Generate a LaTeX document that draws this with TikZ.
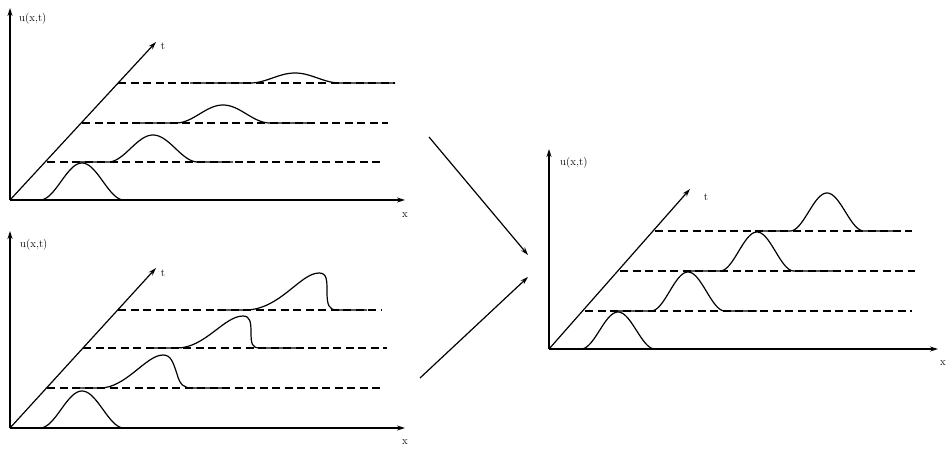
\documentclass[tikz,border=0pt]{standalone}
\usetikzlibrary{arrows.meta}

% one bump on a baseline: baseline row, centre, height, half width, solid from, solid to
\newcommand\bumpcurve[6]{%
  \pgfmathsetmacro\bumpa{#2-#4}%
  \pgfmathsetmacro\bumpb{#2+#4}%
  \draw[curve] (#5,#1) -- (\bumpa,#1)
    -- plot[domain=\bumpa:\bumpb,samples=60,smooth] (\x,{#1-#3*(1+cos(180*(\x-#2)/#4))/2})
    -- (#6,#1);
}

\tikzset{
  axis/.style={line width=1.2pt,-{Stealth[length=8pt,width=5pt]}},
  level/.style={line width=1.2pt,dash pattern=on 8pt off 4.5pt},
  curve/.style={line width=1.2pt},
  flow/.style={line width=1.2pt,-{Stealth[length=8pt,width=5pt]}},
  lab/.style={inner sep=0pt,font=\fontsize{11}{12}\selectfont},
}

\begin{document}
\begin{tikzpicture}[x=1pt,y=-1pt]
\useasboundingbox[fill=white] (0,0) rectangle (949,453);

% ---------- upper left: diffusing pulse ----------
\coordinate (o1) at (10,200);
\coordinate (y1) at (10,8);
\coordinate (x1) at (405,200);
\coordinate (t1) at (156,42);
\draw[axis] (o1) -- (y1);
\draw[axis] (o1) -- (x1);
\draw[axis] (o1) -- (t1);
\node[lab,anchor=west] (u1) at (19,19) {u(x,t)};
\node[lab] (tl1) at (163,46) {t};
\node[lab] (xl1) at (405,215) {x};
\coordinate (a1s) at (47,162);  \coordinate (a1e) at (384,162);
\coordinate (b1s) at (82,123);  \coordinate (b1e) at (388,123);
\coordinate (c1s) at (118,83);  \coordinate (c1e) at (395,83);
\draw[level] (a1s) -- (a1e);
\draw[level] (b1s) -- (b1e);
\draw[level] (c1s) -- (c1e);
\bumpcurve{200}{82}{37}{42}{10}{130}
\bumpcurve{162}{153}{27}{45}{77}{233}
\bumpcurve{123}{223}{18}{47}{133}{313}
\bumpcurve{83}{295}{10}{45}{190}{395}

% ---------- lower left: steepening pulse ----------
\coordinate (o2) at (10,428);
\coordinate (y2) at (10,231);
\coordinate (x2) at (405,428);
\coordinate (t2) at (156,268);
\draw[axis] (o2) -- (y2);
\draw[axis] (o2) -- (x2);
\draw[axis] (o2) -- (t2);
\node[lab,anchor=west] (u2) at (20,245) {u(x,t)};
\node[lab] (tl2) at (163,273) {t};
\node[lab] (xl2) at (405,442) {x};
\coordinate (a2s) at (47,388);  \coordinate (a2e) at (382,388);
\coordinate (b2s) at (83,348);  \coordinate (b2e) at (387,348);
\coordinate (c2s) at (118,310); \coordinate (c2e) at (382,310);
\draw[level] (a2s) -- (a2e);
\draw[level] (b2s) -- (b2e);
\draw[level] (c2s) -- (c2e);
\bumpcurve{428}{82}{37}{42}{10}{153}
\draw[curve] (77,388) -- (100,388)
  .. controls (126,388) and (146,355) .. (163,355)
  .. controls (171,355) and (173,362) .. (177,374)
  .. controls (180,385) and (184,388) .. (192,388) -- (223,388);
\draw[curve] (153,348) -- (177,348)
  .. controls (205,348) and (224,316) .. (243,316)
  .. controls (250,316) and (251,322) .. (251,332)
  .. controls (251,344) and (252,348) .. (260,348) -- (302,348);
\draw[curve] (217,310) -- (245,310)
  .. controls (280,310) and (300,273) .. (319,273)
  .. controls (327,273) and (327,280) .. (327,292)
  .. controls (327,305) and (329,310) .. (337,310) -- (367,310);

% ---------- arrows towards the right panel ----------
\coordinate (f1s) at (429,137); \coordinate (f1e) at (528,255);
\coordinate (f2s) at (420,378); \coordinate (f2e) at (528,277);
\draw[flow] (f1s) -- (f1e);
\draw[flow] (f2s) -- (f2e);

% ---------- right: travelling pulse ----------
\coordinate (o3) at (549,349);
\coordinate (y3) at (549,149);
\coordinate (x3) at (938,349);
\coordinate (t3) at (690,189);
\draw[axis] (o3) -- (y3);
\draw[axis] (o3) -- (x3);
\draw[axis] (o3) -- (t3);
\node[lab,anchor=west] (u3) at (560,163) {u(x,t)};
\node[lab] (tl3) at (706,197) {t};
\node[lab] (xl3) at (943,363) {x};
\coordinate (a3s) at (585,311); \coordinate (a3e) at (912,311);
\coordinate (b3s) at (620,271); \coordinate (b3e) at (915,271);
\coordinate (c3s) at (655,231); \coordinate (c3e) at (912,231);
\draw[level] (a3s) -- (a3e);
\draw[level] (b3s) -- (b3e);
\draw[level] (c3s) -- (c3e);
\bumpcurve{349}{618}{37}{37}{549}{687}
\bumpcurve{311}{688}{39}{37}{617}{757}
\bumpcurve{271}{757}{39}{37}{687}{833}
\bumpcurve{231}{827}{38}{37}{757}{897}
\end{tikzpicture}
\end{document}
